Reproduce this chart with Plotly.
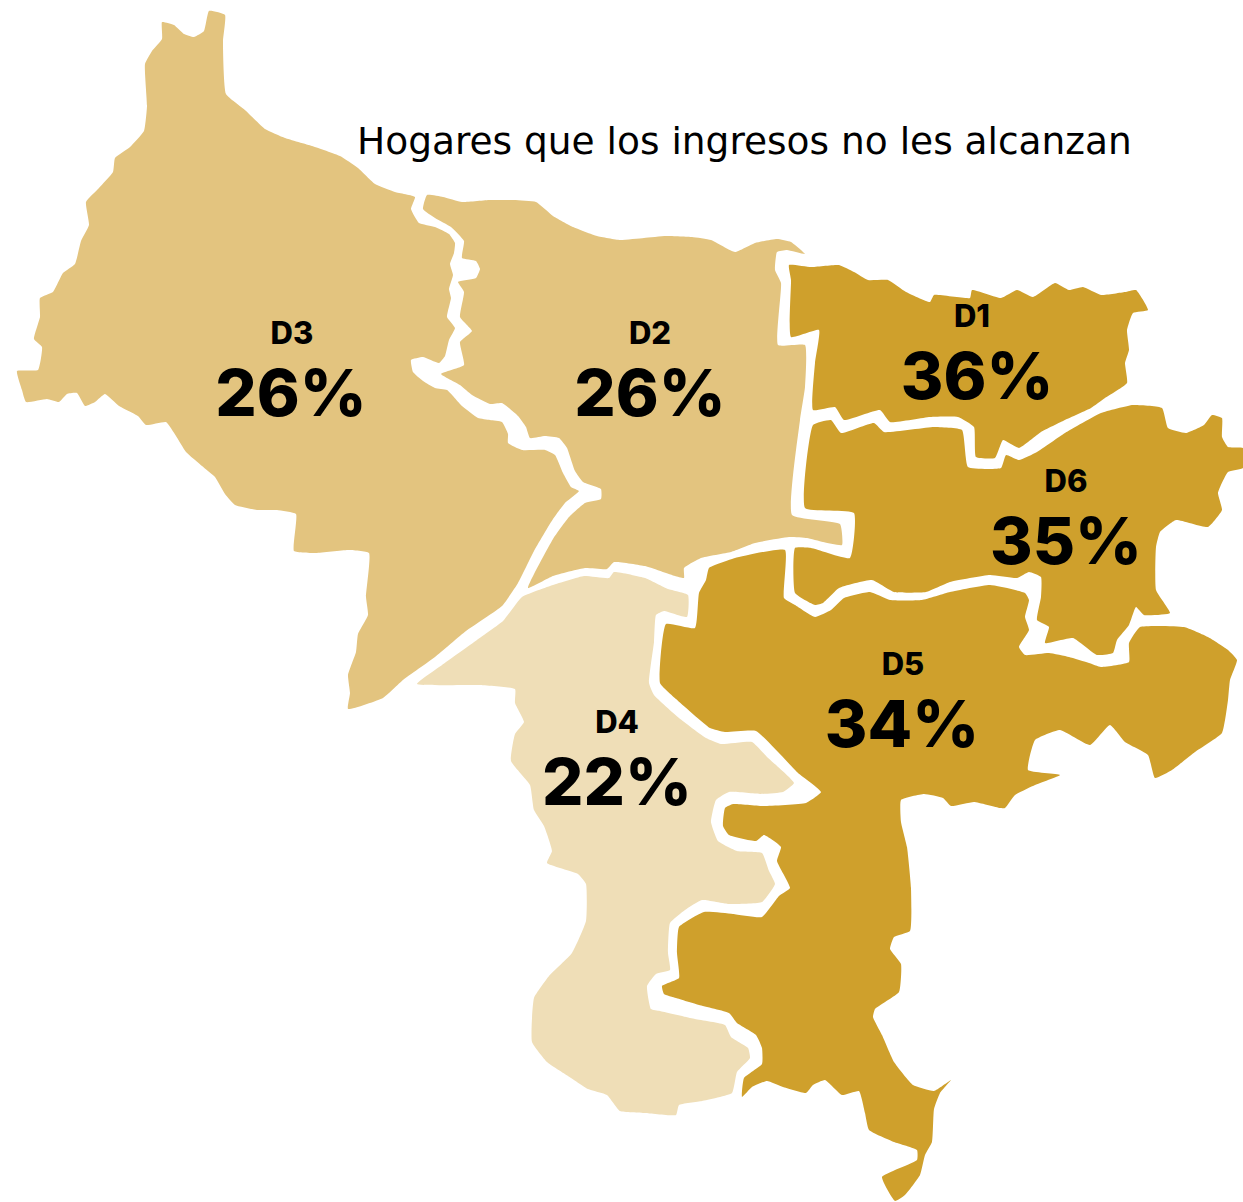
import plotly.graph_objects as go

districts = ["D1", "D2", "D3", "D4", "D5", "D6"]
shares = [36, 26, 26, 22, 34, 35]
title_text = "Hogares que los ingresos no les alcanzan"
label_x = [972, 650, 292, 617, 903, 1066]
label_y = [319, 336, 336, 725, 667, 484]
share_y = [383, 400, 400, 789, 731, 548]
share_x = [977, 650, 291, 617, 902, 1066]

d1_outline = [(789,265),(811,267),(839,265),(854,272),(868,280),(888,280),(906,292),(930,302),(934,295),(970,298),(972,290),(1001,298),(1017,290),(1033,297),(1055,283),(1069,290),(1083,287),(1101,295),(1125,292),(1136,290),(1148,310),(1133,313),(1127,330),(1129,350),(1125,363),(1127,383),(1105,398),(1091,408),(1065,420),(1041,432),(1019,448),(1003,440),(995,458),(976,457),(974,427),(958,417),(930,417),(890,422),(880,410),(844,420),(835,407),(813,410),(815,363),(819,330),(791,337),(791,280)]
d2_outline = [(427,195),(443,197),(462,202),(490,200),(514,200),(536,202),(553,216),(573,227),(597,236),(620,240),(644,238),(666,236),(692,237),(711,240),(735,252),(755,243),(777,239),(791,242),(805,254),(787,250),(777,252),(775,270),(781,283),(778,345),(805,345),(805,387),(800,420),(792,515),(840,524),(842,545),(823,542),(807,538),(789,537),(755,543),(731,552),(701,558),(684,568),(684,578),(675,576),(645,566),(614,562),(607,569),(585,568),(553,576),(528,588),(553,539),(569,517),(585,503),(601,499),(601,489),(583,482),(575,471),(567,448),(559,438),(545,436),(530,438),(526,427),(518,416),(502,403),(490,404),(472,395),(460,385),(441,374),(464,365),(460,342),(472,331),(460,317),(464,292),(458,282),(476,278),(480,269),(476,261),(462,258),(464,241),(451,227),(435,218),(423,209)]
d3_outline = [(209,11),(225,15),(223,41),(226,94),(245,110),(265,129),(285,138),(312,146),(340,156),(358,168),(375,184),(395,192),(415,197),(411,209),(419,223),(435,227),(449,234),(455,243),(454,253),(450,264),(453,275),(449,289),(451,298),(447,317),(455,328),(449,340),(445,356),(439,363),(423,357),(411,360),(413,372),(423,381),(435,388),(447,390),(462,406),(478,418),(490,420),(502,422),(508,434),(508,443),(522,450),(545,450),(555,455),(563,473),(571,487),(579,491),(565,503),(553,519),(534,551),(518,583),(502,606),(466,631),(435,657),(403,680),(383,698),(348,709),(350,693),(348,675),(356,652),(358,634),(368,615),(366,597),(369,553),(348,550),(316,553),(294,551),(296,514),(277,510),(257,510),(235,505),(225,494),(215,477),(202,466),(186,452),(176,436),(166,422),(146,425),(138,416),(119,406),(105,394),(95,402),(85,406),(77,393),(67,394),(59,402),(47,399),(26,402),(22,390),(17,371),(38,370),(42,347),(34,339),(40,317),(40,298),(53,292),(63,273),(75,264),(81,241),(89,225),(86,202),(99,188),(113,172),(115,158),(130,147),(144,131),(147,106),(145,64),(152,51),(162,39),(162,22),(174,25),(184,34),(194,37),(204,31)]
d4_outline = [(417,684),(442,665),(477,640),(503,621),(522,597),(553,585),(584,576),(609,578),(614,572),(645,578),(668,589),(688,595),(687,617),(664,611),(656,615),(654,642),(649,683),(654,695),(679,718),(706,738),(721,744),(752,742),(767,757),(794,783),(783,792),(760,794),(729,792),(716,800),(711,822),(718,841),(737,851),(762,853),(769,871),(775,884),(762,902),(729,904),(702,900),(685,910),(670,923),(668,953),(670,970),(656,974),(647,986),(651,1009),(660,1011),(695,1019),(725,1025),(731,1037),(748,1048),(750,1058),(737,1072),(732,1093),(702,1101),(679,1105),(676,1115),(645,1113),(620,1111),(607,1095),(588,1089),(568,1076),(547,1062),(532,1042),(534,998),(549,976),(572,953),(586,921),(586,884),(578,874),(547,863),(552,851),(544,826),(534,810),(530,785),(511,761),(515,734),(524,722),(515,703),(515,689),(477,685)]
d5_outline = [(709,568),(735,558),(785,550),(784,598),(795,605),(815,617),(831,610),(844,598),(870,592),(890,600),(922,600),(950,592),(990,585),(1025,593),(1029,600),(1025,617),(1029,630),(1019,647),(1025,655),(1049,653),(1069,657),(1089,663),(1101,667),(1129,662),(1129,643),(1140,627),(1184,627),(1208,637),(1228,650),(1237,660),(1230,680),(1228,700),(1222,733),(1195,752),(1172,770),(1155,778),(1148,755),(1125,742),(1110,725),(1090,745),(1060,730),(1035,740),(1028,770),(1060,775),(1035,785),(1015,795),(1005,808),(1000,808),(974,802),(951,806),(943,798),(924,794),(901,800),(901,822),(907,847),(911,888),(910,931),(894,937),(890,949),(901,964),(899,992),(875,1009),(873,1017),(882,1035),(894,1062),(913,1085),(934,1091),(951,1080),(940,1093),(934,1109),(932,1142),(925,1155),(920,1175),(905,1195),(895,1201),(882,1177),(917,1160),(917,1150),(894,1142),(869,1130),(865,1113),(859,1091),(842,1095),(825,1080),(813,1085),(806,1093),(783,1087),(767,1081),(752,1087),(742,1097),(744,1078),(762,1064),(762,1048),(756,1035),(737,1023),(729,1013),(699,1005),(676,998),(664,994),(662,986),(679,978),(677,953),(679,927),(704,912),(733,914),(762,917),(779,896),(790,888),(777,861),(781,847),(764,835),(756,841),(729,835),(723,826),(725,808),(733,804),(764,806),(806,803),(821,792),(798,773),(756,731),(725,732),(710,728),(676,699),(660,683),(666,624),(695,628),(699,593),(706,580)]
d6_outline = [(813,425),(831,420),(841,433),(874,423),(884,432),(934,427),(962,430),(968,467),(1001,468),(1006,455),(1019,460),(1037,452),(1065,433),(1101,413),(1133,405),(1162,408),(1168,428),(1186,433),(1204,425),(1212,415),(1222,418),(1222,437),(1228,447),(1243,448),(1243,468),(1228,472),(1218,493),(1222,510),(1208,527),(1176,520),(1160,532),(1156,547),(1156,590),(1170,613),(1144,615),(1136,607),(1129,625),(1117,640),(1113,653),(1097,655),(1073,638),(1045,643),(1049,627),(1037,620),(1041,597),(1041,577),(1029,572),(1017,578),(990,575),(950,582),(926,592),(894,592),(872,580),(839,588),(823,603),(815,605),(795,593),(795,548),(811,548),(850,558),(854,513),(805,508)]
outlines = [d1_outline, d2_outline, d3_outline, d4_outline, d5_outline, d6_outline]
colour_by_share = {22: "#EFDEB7", 26: "#E3C47F", 34: "#CFA02C", 35: "#CFA02C", 36: "#CFA02C"}

fig = go.Figure()
for name, share, outline in zip(districts, shares, outlines):
    closed = outline + [outline[0]]
    fig.add_trace(go.Scatter(x=[p[0] for p in closed], y=[p[1] for p in closed], mode="lines",
                             fill="toself", fillcolor=colour_by_share[share],
                             line=dict(width=0, shape="spline", smoothing=0.4),
                             name=name, hoverinfo="name", showlegend=False))

fig.add_trace(go.Scatter(x=label_x, y=label_y, mode="text", text=districts, textposition="middle center",
                         textfont=dict(family="Inter", size=31, color="#000000", weight=800),
                         showlegend=False, hoverinfo="skip"))
fig.add_trace(go.Scatter(x=share_x, y=share_y, mode="text", text=[f"{v}%" for v in shares], textposition="middle center",
                         textfont=dict(family="Inter", size=65, color="#000000", weight=800),
                         showlegend=False, hoverinfo="skip"))
fig.add_annotation(x=744, y=141, xref="x", yref="y", text=title_text, showarrow=False,
                   font=dict(family="DejaVu Sans", size=37.5, color="#000000"))

fig.update_layout(width=1243, height=1202, margin=dict(l=0, r=0, t=0, b=0),
                  paper_bgcolor="white", plot_bgcolor="white", showlegend=False)
fig.update_xaxes(range=[0, 1243], visible=False, fixedrange=True)
fig.update_yaxes(range=[1202, 0], visible=False, fixedrange=True)
fig.write_html("out.html", post_script="document.body.style.margin='0';", config={"displayModeBar": False})
